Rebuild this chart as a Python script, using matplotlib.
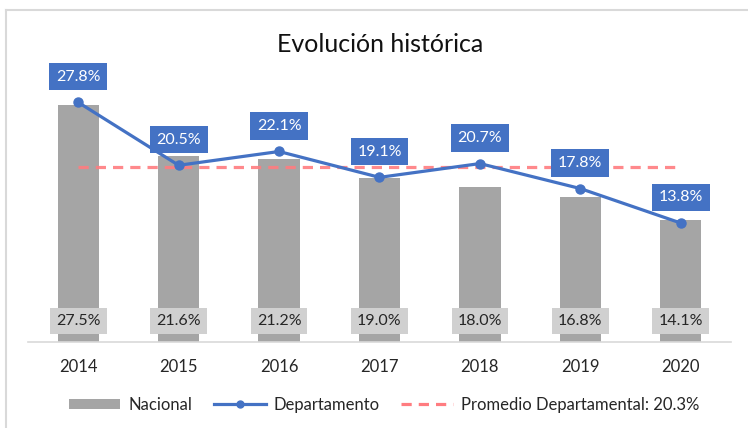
import matplotlib
matplotlib.use("Agg")
import matplotlib.pyplot as plt
from matplotlib.lines import Line2D
from matplotlib.patches import Patch

years = ["2014", "2015", "2016", "2017", "2018", "2019", "2020"]
nacional = [27.5, 21.6, 21.2, 19.0, 18.0, 16.8, 14.1]
departamento = [27.8, 20.5, 22.1, 19.1, 20.7, 17.8, 13.8]
promedio = 20.3

title = "Evolución histórica"
legend_labels = ["Nacional", "Departamento", "Promedio Departamental: 20.3%"]

FONT = ["Lato", "DejaVu Sans"]
plt.rcParams["font.family"] = FONT

BAR = "#A5A5A5"
BLUE = "#4472C4"
RED = "#FF7C80"
LBLBOX = "#D0D0D0"
TXT = "#262626"

fig = plt.figure(figsize=(7.48, 4.28), dpi=100)
W, H = 748, 428
ax = fig.add_axes([28 / W, (H - 342) / H, 703 / W, 258.6 / H])

x = list(range(len(years)))
ax.bar(x, nacional, width=0.41, color=BAR, zorder=2)
ax.plot([x[0], x[-1]], [promedio, promedio], color=RED, lw=2.3,
        dashes=(3.2, 2.2), zorder=3, alpha=0.9)
ax.plot(x, departamento, color=BLUE, lw=2.3, marker="o", ms=6.5, zorder=4)

for xi, v in zip(x, departamento):
    ax.annotate(f"{v:.1f}%", (xi, v), xytext=(0, 18.5), textcoords="offset points",
                ha="center", va="center", color="white", fontsize=11.5,
                bbox=dict(boxstyle="square,pad=0.42", fc=BLUE, ec="none"),
                zorder=6, annotation_clip=False)

for xi, v in zip(x, nacional):
    ax.annotate(f"{v:.1f}%", (xi, 0), xytext=(0, 15), textcoords="offset points",
                ha="center", va="center", color=TXT, fontsize=11.5,
                bbox=dict(boxstyle="square,pad=0.38", fc=LBLBOX, ec="none"),
                zorder=6, annotation_clip=False)

ax.set_xlim(-0.5, len(years) - 0.5)
ax.set_ylim(0, 30)
ax.set_xticks(x)
ax.set_xticklabels(years, fontsize=12, color=TXT)
ax.tick_params(axis="x", length=0, pad=12)
ax.set_yticks([])
for s in ["top", "right", "left"]:
    ax.spines[s].set_visible(False)
ax.spines["bottom"].set_color("#D9D9D9")
ax.spines["bottom"].set_linewidth(1.2)

fig.text(380 / W, 1 - 45 / H, title, ha="center", va="center", fontsize=18, color="#111111")

handles = [Patch(fc=BAR, ec="none"),
           Line2D([], [], color=BLUE, lw=2.3, marker="o", ms=5),
           Line2D([], [], color=RED, lw=2.3, dashes=(3.2, 2.2))]
fig.legend(handles, legend_labels, loc="center", bbox_to_anchor=(384 / W, 1 - 405 / H),
           ncol=3, frameon=False, fontsize=12, handlelength=3.1, handleheight=0.6,
           columnspacing=1.3, handletextpad=0.48, labelcolor=TXT)

# chart frame (top and left edges visible)
fig.add_artist(Line2D([5.5 / W, 5.5 / W], [0, 1 - 9.5 / H], color="#D9D9D9", lw=1.5))
fig.add_artist(Line2D([5.5 / W, 1], [1 - 9.5 / H, 1 - 9.5 / H], color="#D9D9D9", lw=1.5))

fig.savefig("out.png", dpi=100)
